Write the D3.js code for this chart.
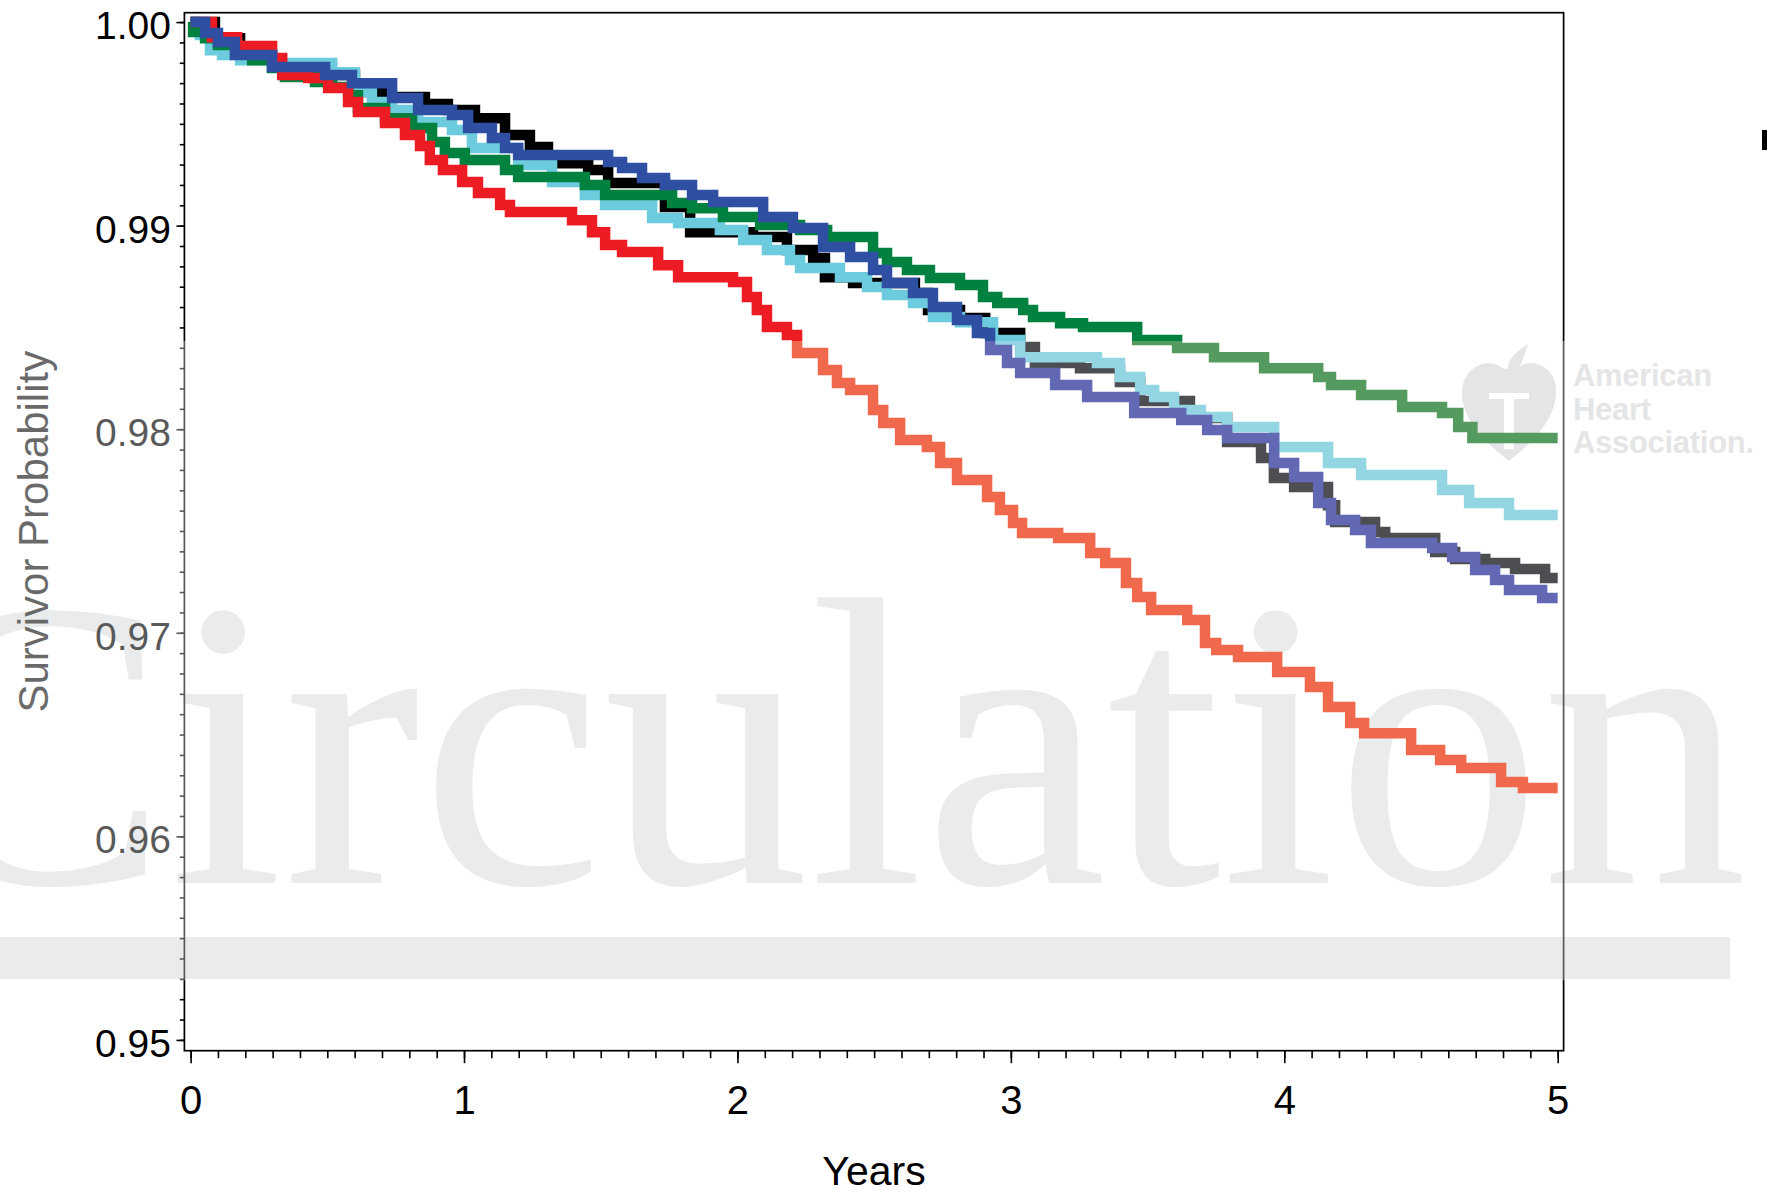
<!DOCTYPE html>
<html><head><meta charset="utf-8">
<script src="https://cdn.jsdelivr.net/npm/d3@7"></script>
<style>html,body{margin:0;padding:0;background:#fff;}svg{display:block;}</style>
</head><body><div id="chart"></div>
<script>
// ---------- data ----------
const yearTicks = [0, 1, 2, 3, 4, 5];
const yearTickLabels = ["0", "1", "2", "3", "4", "5"];
const survTicks = [0.95, 0.96, 0.97, 0.98, 0.99, 1.00];
const survTickLabels = ["0.95", "0.96", "0.97", "0.98", "0.99", "1.00"];
const xTitle = "Years";
const yTitle = "Survivor Probability";

const blackCurve = [[0,1],[0.089,0.99921],[0.181,0.99838],[0.298,0.99779],[0.492,0.99740],[0.601,0.99691],[0.638,0.99656],[0.729,0.99632],[0.857,0.99597],[0.941,0.99568],[1.040,0.99528],[1.150,0.99445],[1.241,0.99386],[1.307,0.99307],[1.454,0.99273],[1.527,0.99209],[1.735,0.99091],[1.827,0.98968],[2.057,0.98944],[2.181,0.98880],[2.277,0.98841],[2.320,0.98747],[2.423,0.98718],[2.649,0.98669],[2.697,0.98585],[2.814,0.98546],[2.906,0.98472],[3.034,0.98404],[3.088,0.98325],[3.253,0.98300],[3.399,0.98232],[3.473,0.98138],[3.655,0.98055],[3.791,0.97937],[3.915,0.97858],[3.962,0.97760],[4.036,0.97716],[4.160,0.97627],[4.186,0.97544],[4.332,0.97495],[4.369,0.97465],[4.552,0.97397],[4.625,0.97362],[4.735,0.97343],[4.844,0.97313],[4.954,0.97269],[5.0,0.97269]];

const cyanCurve = [[0,1],[0.034,0.99936],[0.071,0.99862],[0.115,0.99838],[0.181,0.99813],[0.298,0.99799],[0.518,0.99754],[0.601,0.99656],[0.663,0.99607],[0.737,0.99568],[0.832,0.99509],[0.956,0.99470],[1.029,0.99381],[1.198,0.99298],[1.322,0.99214],[1.442,0.99150],[1.516,0.99101],[1.688,0.99037],[1.783,0.99013],[1.936,0.98978],[2.021,0.98929],[2.108,0.98880],[2.192,0.98831],[2.229,0.98792],[2.375,0.98747],[2.474,0.98698],[2.547,0.98659],[2.642,0.98620],[2.715,0.98551],[2.814,0.98526],[2.935,0.98438],[3.034,0.98354],[3.315,0.98325],[3.399,0.98256],[3.473,0.98192],[3.524,0.98158],[3.597,0.98094],[3.695,0.98060],[3.791,0.98011],[3.963,0.97912],[4.160,0.97834],[4.281,0.97775],[4.577,0.97701],[4.676,0.97637],[4.822,0.97578],[5.0,0.97578]];

const greenCurve = [[0,1],[0.009,0.99951],[0.053,0.99921],[0.100,0.99887],[0.173,0.99848],[0.225,0.99813],[0.298,0.99774],[0.345,0.99730],[0.455,0.99705],[0.518,0.99681],[0.576,0.99641],[0.612,0.99578],[0.711,0.99528],[0.810,0.99479],[0.883,0.99411],[0.930,0.99357],[1.003,0.99322],[1.150,0.99273],[1.198,0.99239],[1.442,0.99199],[1.516,0.99150],[1.761,0.99111],[1.834,0.99086],[1.947,0.99042],[2.083,0.99003],[2.229,0.98978],[2.328,0.98944],[2.496,0.98865],[2.547,0.98821],[2.620,0.98782],[2.704,0.98743],[2.814,0.98708],[2.898,0.98649],[2.950,0.98620],[3.045,0.98585],[3.081,0.98551],[3.180,0.98521],[3.264,0.98502],[3.462,0.98438],[3.608,0.98399],[3.743,0.98354],[3.926,0.98300],[4.124,0.98256],[4.171,0.98217],[4.281,0.98168],[4.431,0.98109],[4.577,0.98079],[4.636,0.98011],[4.688,0.97957],[5.0,0.97957]];

const redCurve = [[0,1],[0.078,0.99926],[0.170,0.99882],[0.298,0.99823],[0.335,0.99740],[0.430,0.99725],[0.503,0.99676],[0.576,0.99607],[0.612,0.99558],[0.711,0.99504],[0.784,0.99445],[0.839,0.99391],[0.875,0.99322],[0.923,0.99273],[0.993,0.99214],[1.051,0.99160],[1.132,0.99101],[1.168,0.99067],[1.395,0.99027],[1.468,0.98968],[1.516,0.98905],[1.578,0.98870],[1.710,0.98806],[1.783,0.98747],[1.984,0.98723],[2.035,0.98649],[2.071,0.98585],[2.108,0.98502],[2.181,0.98463],[2.218,0.98374],[2.313,0.98291],[2.364,0.98227],[2.412,0.98192],[2.496,0.98094],[2.533,0.98030],[2.595,0.97947],[2.693,0.97912],[2.741,0.97834],[2.803,0.97750],[2.913,0.97667],[2.960,0.97603],[3.008,0.97539],[3.041,0.97490],[3.173,0.97465],[3.290,0.97392],[3.345,0.97343],[3.421,0.97244],[3.462,0.97176],[3.513,0.97112],[3.645,0.97063],[3.710,0.96950],[3.751,0.96915],[3.831,0.96881],[3.974,0.96807],[4.094,0.96734],[4.160,0.96635],[4.241,0.96557],[4.292,0.96507],[4.464,0.96424],[4.570,0.96375],[4.647,0.96336],[4.793,0.96267],[4.873,0.96237],[5.0,0.96237]];

const blueCurve = [[0,1],[0.053,0.99946],[0.100,0.99902],[0.162,0.99838],[0.298,0.99779],[0.492,0.99740],[0.590,0.99700],[0.737,0.99627],[0.832,0.99568],[0.956,0.99543],[1.015,0.99479],[1.102,0.99430],[1.150,0.99381],[1.198,0.99347],[1.527,0.99312],[1.578,0.99283],[1.651,0.99234],[1.735,0.99199],[1.834,0.99150],[1.911,0.99116],[2.094,0.99042],[2.203,0.98988],[2.313,0.98895],[2.412,0.98846],[2.496,0.98782],[2.547,0.98718],[2.642,0.98669],[2.715,0.98600],[2.803,0.98536],[2.876,0.98472],[2.924,0.98389],[2.986,0.98325],[3.034,0.98276],[3.162,0.98217],[3.279,0.98158],[3.451,0.98079],[3.623,0.98045],[3.718,0.97996],[3.791,0.97957],[3.963,0.97834],[4.036,0.97765],[4.124,0.97637],[4.171,0.97554],[4.259,0.97505],[4.317,0.97441],[4.541,0.97416],[4.614,0.97372],[4.698,0.97308],[4.771,0.97259],[4.822,0.97210],[4.943,0.97171],[5.0,0.97171]];

// drawing order (bottom to top)
const seriesNames = ["black", "cyan", "green", "red", "blue"];
const seriesData = [blackCurve, cyanCurve, greenCurve, redCurve, blueCurve];
const colorsMain = ["#000000", "#6ccbdd", "#008140", "#ed1c24", "#2e4fa2"];
const colorsFaded = ["#4d4e52", "#94d5e3", "#559a5f", "#f0694d", "#6368b5"];

// ---------- layout ----------
const W = 1767, H = 1195;
const P = {left: 184.4, top: 12.7, right: 1563.6, bottom: 1050.7};
const bandTop = 341, bandBottom = 980, overlayAlpha = 0.35;

const svg = d3.select("#chart").append("svg").attr("width", W).attr("height", H);
svg.append("rect").attr("width", W).attr("height", H).attr("fill", "#fff");

const x = d3.scaleLinear().domain([-0.0227, 5.0216]).range([P.left, P.right]);
const y = d3.scaleLinear().domain([0.94947, 1.00046]).range([P.bottom, P.top]);

// ---------- watermark (colors pre-compensated for the overlay) ----------
const wm = svg.append("g");
wm.append("rect").attr("x", 0).attr("y", 937).attr("width", 1730).attr("height", 42).attr("fill", "rgb(221,224,226)");
wm.append("text").attr("x", -106).attr("y", 883)
  .attr("font-family", "'Liberation Serif','Times New Roman',serif").attr("font-size", 412)
  .attr("fill", "rgb(221,224,226)").text("Circulation");
const ahaFill = "rgb(214,215,218)";
["American", "Heart", "Association."].forEach((t, i) => {
  wm.append("text").attr("x", 1573).attr("y", 386 + i * 33.5)
    .attr("font-family", "'Liberation Sans',Arial,sans-serif").attr("font-weight", "bold")
    .attr("font-size", 31).attr("letter-spacing", -0.3).attr("fill", ahaFill).text(t);
});
const hp = d3.path();
hp.moveTo(1509, 461);
hp.bezierCurveTo(1482, 440, 1461, 416, 1462, 392);
hp.bezierCurveTo(1463, 368, 1486, 357, 1501, 367);
hp.bezierCurveTo(1506, 370, 1513, 370, 1518, 367);
hp.bezierCurveTo(1535, 357, 1557, 368, 1556, 393);
hp.bezierCurveTo(1555, 418, 1536, 440, 1509, 461);
hp.closePath();
wm.append("path").attr("d", hp.toString()).attr("fill", ahaFill);
const fp = d3.path();
fp.moveTo(1508, 372); fp.bezierCurveTo(1506, 360, 1516, 352, 1528, 344);
fp.bezierCurveTo(1524, 356, 1522, 364, 1516, 372); fp.closePath();
wm.append("path").attr("d", fp.toString()).attr("fill", ahaFill);
wm.append("rect").attr("x", 1489).attr("y", 393).attr("width", 40).attr("height", 6).attr("fill", "#fff");
wm.append("rect").attr("x", 1504).attr("y", 399).attr("width", 10).attr("height", 50).attr("fill", "#fff");

// ---------- axes ----------
const ax = svg.append("g").attr("font-family", "'Liberation Sans',Arial,Helvetica,sans-serif");

const yMinor = d3.range(51).map(i => +(0.95 + i * 0.001).toFixed(3));
const xMinor = d3.range(51).map(i => +(i * 0.1).toFixed(1));

const gyMinor = ax.append("g").attr("transform", `translate(${P.left},0)`)
  .call(d3.axisLeft(y).tickValues(yMinor).tickSize(4.6).tickFormat(""));
const gy = ax.append("g").attr("transform", `translate(${P.left},0)`)
  .call(d3.axisLeft(y).tickValues(survTicks).tickSize(8).tickPadding(5.5)
        .tickFormat((d, i) => survTickLabels[i]));
gy.selectAll("text").attr("dy", null).attr("y", 16.5)
  .attr("font-size", 39).attr("fill", "#000").attr("font-family", "'Liberation Sans',Arial,sans-serif");

const gxMinor = ax.append("g").attr("transform", `translate(0,${P.bottom})`)
  .call(d3.axisBottom(x).tickValues(xMinor).tickSize(7.5).tickFormat(""));
const gx = ax.append("g").attr("transform", `translate(0,${P.bottom})`)
  .call(d3.axisBottom(x).tickValues(yearTicks).tickSize(12.5)
        .tickFormat((d, i) => yearTickLabels[i]));
gx.selectAll("text").attr("dy", null).attr("y", 63.5)
  .attr("font-size", 40).attr("fill", "#000").attr("font-family", "'Liberation Sans',Arial,sans-serif");

[gyMinor, gy, gxMinor, gx].forEach(g => {
  g.select(".domain").remove();
  g.selectAll("line").attr("stroke", "#000").attr("stroke-width", 1.6);
});

ax.append("rect").attr("x", P.left).attr("y", P.top)
  .attr("width", P.right - P.left).attr("height", P.bottom - P.top)
  .attr("fill", "none").attr("stroke", "#000").attr("stroke-width", 1.7);

ax.append("text").attr("x", (P.left + P.right) / 2).attr("y", 1185)
  .attr("text-anchor", "middle").attr("font-size", 41).attr("fill", "#000").text(xTitle);
ax.append("text").attr("transform", `translate(48,${(P.top + P.bottom) / 2}) rotate(-90)`)
  .attr("text-anchor", "middle").attr("font-size", 42).attr("fill", "#1a1a1a").text(yTitle);

// ---------- watermark band overlay ----------
svg.append("rect").attr("x", 0).attr("y", bandTop).attr("width", W).attr("height", bandBottom - bandTop)
  .attr("fill", "#fff").attr("fill-opacity", overlayAlpha);

// ---------- curves ----------
const defs = svg.append("defs");
const cOut = defs.append("clipPath").attr("id", "clipOut");
cOut.append("rect").attr("x", 0).attr("y", 0).attr("width", W).attr("height", bandTop);
cOut.append("rect").attr("x", 0).attr("y", bandBottom).attr("width", W).attr("height", H - bandBottom);
defs.append("clipPath").attr("id", "clipBand").append("rect")
  .attr("x", 0).attr("y", bandTop).attr("width", W).attr("height", bandBottom - bandTop);

const line = d3.line().x(d => x(d[0])).y(d => y(d[1])).curve(d3.curveStepAfter);
const lg = svg.append("g").attr("fill", "none").attr("stroke-width", 10.5)
  .attr("stroke-linejoin", "miter").attr("stroke-linecap", "butt");
seriesData.forEach((data, i) => {
  lg.append("path").datum(data).attr("d", line).attr("stroke", colorsMain[i])
    .attr("clip-path", "url(#clipOut)").attr("class", "curve-" + seriesNames[i]);
  lg.append("path").datum(data).attr("d", line).attr("stroke", colorsFaded[i])
    .attr("clip-path", "url(#clipBand)").attr("class", "curve-" + seriesNames[i] + "-band");
});

// small cut-off mark at top right edge
svg.append("rect").attr("x", 1762).attr("y", 130).attr("width", 5).attr("height", 20).attr("fill", "#000");
</script>
</body></html>
